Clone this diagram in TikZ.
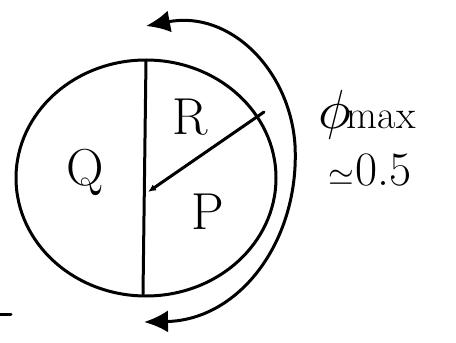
\documentclass[tikz,border=0pt]{standalone}
\usepackage{graphicx}
\usetikzlibrary{arrows.meta}
\tikzset{bighead/.tip={Latex[length=24pt,width=22pt]}}
\newcommand{\bigmath}[2]{\scalebox{#1}{\fontsize{10}{12}\selectfont$#2$}}
\begin{document}
\begin{tikzpicture}[x=1pt,y=-1pt,
  ink/.style={line width=3pt,line cap=round,line join=round},
  big/.style={font=\fontsize{52}{58}\selectfont},
  small/.style={font=\fontsize{40}{46}\selectfont,inner sep=0pt},
  mid/.style={font=\fontsize{48}{54}\selectfont,inner sep=0pt}]
\useasboundingbox[fill=white] (0,0) rectangle (456,343);
% outer circle
\coordinate (c) at (146,178);
\draw[ink] (c) ellipse [x radius=130, y radius=118];
% dividers
\coordinate (top) at (146,60);
\coordinate (bot) at (143,294);
\coordinate (ctr) at (148,192);
\coordinate (rim) at (264,112);
\draw[ink] (top) -- (bot);
\draw[ink,-{Latex[length=8pt,width=7pt]}] (rim) -- (ctr);
% outer double arrow
\coordinate (a1) at (146,26);
\coordinate (a2) at (144,322);
\draw[ink,bighead-bighead]
  (a1) .. controls (230,10) and (290,70) .. (295,145)
       .. controls (300,240) and (240,320) .. (a2);
% labels
\node[big] (Q) at (85,172) {Q};
\node[big] (R) at (190,117) {R};
\node[big] (P) at (208,212) {P};
\node[small,anchor=base west] (phi) at (318,128) {\bigmath{5.5}{\phi}\kern-4pt max};
\node[mid,anchor=base west] (val) at (328,185) {\bigmath{3.3}{\simeq}\kern2pt 0.5};
% small dash
\coordinate (d1) at (0,314);
\coordinate (d2) at (11,314);
\draw[ink] (d1) -- (d2);
\end{tikzpicture}
\end{document}
